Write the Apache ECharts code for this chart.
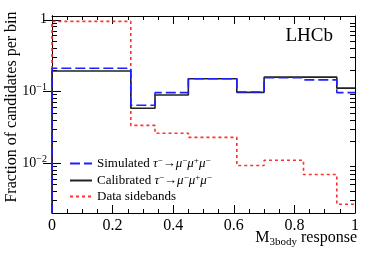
<!DOCTYPE html>
<html><head><meta charset="utf-8">
<script src="https://cdn.jsdelivr.net/npm/echarts@6/dist/echarts.min.js"></script>
<style>html,body{margin:0;padding:0;background:#fff}#c{width:374px;height:254px}</style>
</head><body><div id="c"></div>
<script>
// Bin edges of the M3body response histogram
const binEdges = [0, 0.26, 0.34, 0.45, 0.61, 0.70, 0.83, 0.94, 1.0];
// Fraction of candidates per bin
const simulated = [0.21, 0.064, 0.096, 0.15, 0.098, 0.155, 0.145, 0.096];
const calibrated = [0.193, 0.058, 0.089, 0.15, 0.097, 0.158, 0.158, 0.111];
const sidebands = [0.95, 0.0335, 0.026, 0.0228, 0.0092, 0.0109, 0.0069, 0.00265];
const xTicks = [0, 0.2, 0.4, 0.6, 0.8, 1];
const yMajor = [0.01, 0.1, 1];
const yMinor = [0.002,0.003,0.004,0.005,0.006,0.007,0.008,0.009,
  0.02,0.03,0.04,0.05,0.06,0.07,0.08,0.09,0.2,0.3,0.4,0.5,0.6,0.7,0.8,0.9];
const seriesNames = ['Simulated τ−→μ−μ+μ−', 'Calibrated τ−→μ−μ+μ−', 'Data sidebands'];
const YMIN = 0.002, YMAX = 1.13;

function steps(edges, vals) {
  const pts = [[edges[0], YMIN]];
  for (let i = 0; i < vals.length; i++) {
    pts.push([edges[i], vals[i]]);
    pts.push([edges[i + 1], vals[i]]);
  }
  return pts;
}
const serif = 'Liberation Serif';
const chart = echarts.init(document.getElementById('c'), null, {renderer: 'canvas'});
function yAx(pos, ticks, len, labels) {
  return {
    type: 'log', logBase: 10, min: YMIN, max: YMAX, position: pos,
    axisLine: {show: true, lineStyle: {color: '#000', width: 1}},
    axisTick: {show: true, inside: true, length: len, customValues: ticks, lineStyle: {color: '#000'}},
    axisLabel: labels ? {
      show: true, customValues: yMajor, margin: 5, fontFamily: serif, fontSize: 14, color: '#000',
      formatter: v => v >= 0.99 ? '1' : '10{s|−' + Math.round(-Math.log10(v)) + '}',
      rich: {s: {fontSize: 10, fontFamily: serif, color: '#000', verticalAlign: 'top', padding: [0, 0, 8, 0]}}
    } : {show: false},
    splitLine: {show: false}, minorTick: {show: false}
  };
}
function xAx(pos, labels) {
  return {
    type: 'value', min: 0, max: 1, interval: 0.2, position: pos,
    axisLine: {show: true, onZero: false, lineStyle: {color: '#000', width: 1}},
    axisTick: {show: true, inside: true, length: 8, lineStyle: {color: '#000'}},
    minorTick: {show: true, splitNumber: 4, length: 4, lineStyle: {color: '#000'}},
    axisLabel: labels ? {show: true, margin: 5, fontFamily: serif, fontSize: 16, color: '#000',
      formatter: v => String(v)} : {show: false},
    splitLine: {show: false}, minorSplitLine: {show: false}
  };
}
const base = {fontFamily: serif, fontSize: 13, color: '#000'};
const it = Object.assign({}, base, {fontStyle: 'italic'});
const sup = {fontFamily: serif, fontSize: 9, color: '#000', verticalAlign: 'top', padding: [0, 0, 6, 0]};
function legendLabel(n) {
  if (n === seriesNames[2]) return n;
  const word = n.split(' ')[0];
  return word + ' {i|τ}{s|−}→{i|μ}{s|−}{i|μ}{s|+}{i|μ}{s|−}';
}
chart.setOption({
  animation: false,
  backgroundColor: '#fff',
  grid: {left: 52, right: 19, top: 16, bottom: 41, containLabel: false, outerBoundsMode: 'none'},
  xAxis: [xAx('bottom', true), xAx('top', false)],
  yAxis: [yAx('left', yMajor, 9, true), yAx('right', yMajor, 9, false),
          yAx('right', yMinor, 5, false), yAx('left', yMinor, 5, false)],
  legend: {
    orient: 'vertical', left: 64, top: 151, itemWidth: 22, itemHeight: 12, itemGap: 3,
    data: seriesNames,
    itemStyle: {opacity: 0},
    formatter: legendLabel,
    textStyle: Object.assign({}, base, {rich: {i: it, s: sup}})
  },
  graphic: [
    {type: 'text', right: 41, top: 27, style: {text: 'LHCb', font: '19px "Liberation Serif"', fill: '#000'}},
    {type: 'text', x: 12, y: 107, rotation: Math.PI / 2,
     style: {text: 'Fraction of candidates per bin', font: '16px "Liberation Serif"', fill: '#000',
             align: 'center', verticalAlign: 'middle'}},
    {type: 'text', x: 357, y: 238,
     style: {text: '{m|M}{b|3body}{m| response}', align: 'right', verticalAlign: 'middle',
             rich: {m: {fontFamily: serif, fontSize: 16, fill: '#000', color: '#000'},
                    b: {fontFamily: serif, fontSize: 11, fill: '#000', color: '#000', padding: [8, 0, 0, 0]}}}}
  ],
  series: [
    {name: seriesNames[2], type: 'line', symbol: 'none', data: steps(binEdges, sidebands),
     lineStyle: {color: '#ff3030', width: 1.6, type: [3, 3]}, itemStyle: {color: '#ff3030'}, z: 2},
    {name: seriesNames[1], type: 'line', symbol: 'none', data: steps(binEdges, calibrated),
     lineStyle: {color: '#222', width: 1.6, type: 'solid'}, itemStyle: {color: '#222'}, z: 3},
    {name: seriesNames[0], type: 'line', symbol: 'none', data: steps(binEdges, simulated),
     lineStyle: {color: '#1f1fff', width: 1.6, type: [10, 4]}, itemStyle: {color: '#1f1fff'}, z: 4}
  ]
});
</script></body></html>
